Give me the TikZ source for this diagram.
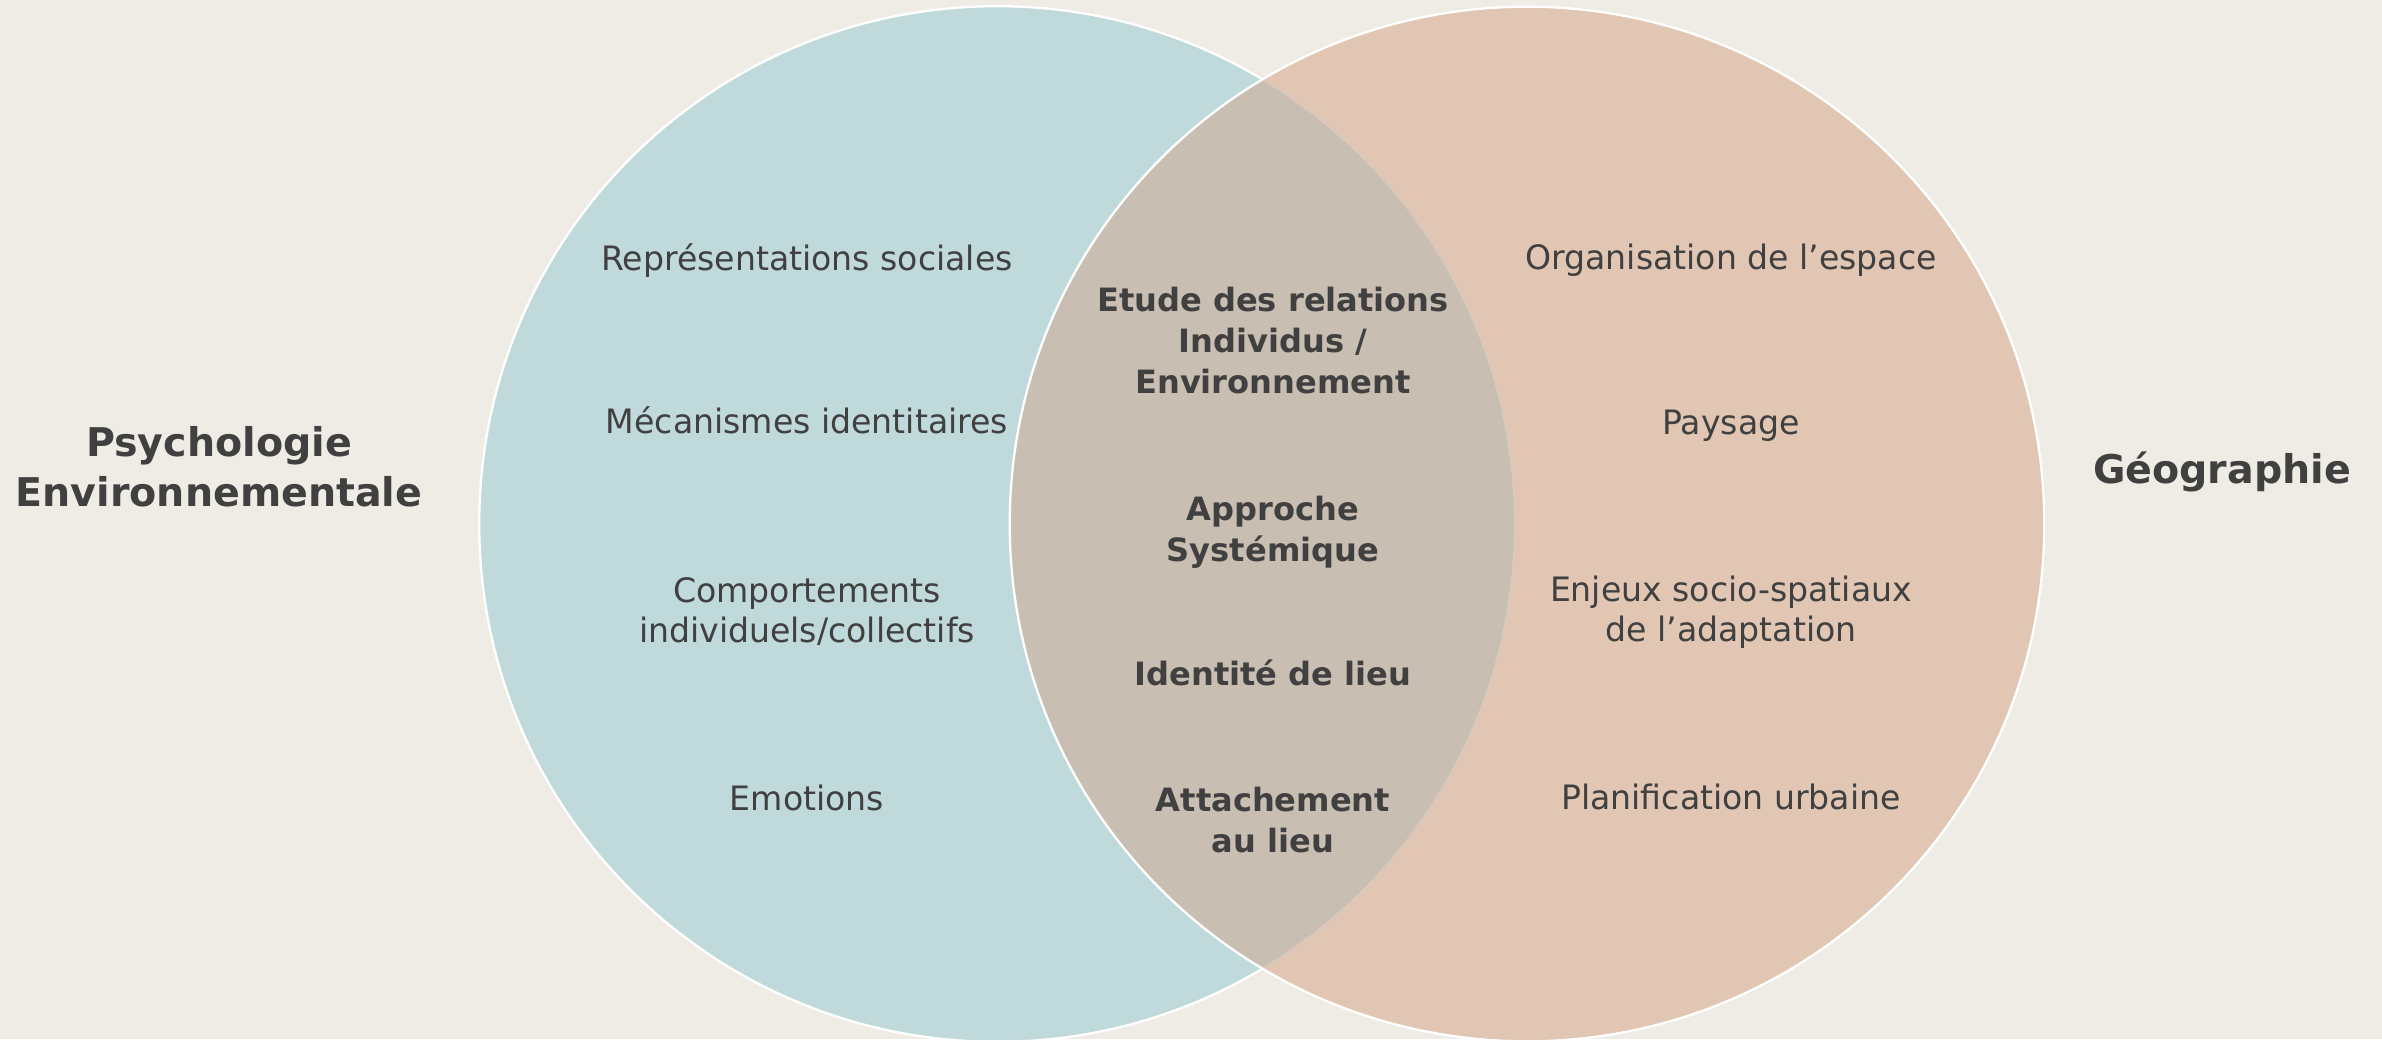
\documentclass[tikz,border=0pt]{standalone}
\usepackage{fontspec}
\setmainfont{DejaVu Sans}
\newfontfamily\regfont{DejaVu Sans}[FakeStretch=0.985]
\newfontfamily\boldfont{DejaVu Sans}
\definecolor{bgc}{HTML}{EFECE5}
\definecolor{bluec}{HTML}{C0D9DB}
\definecolor{peachc}{HTML}{E0C6B3}
\definecolor{interc}{HTML}{C9BEB2}
\definecolor{faintc}{HTML}{D9CABE}
\definecolor{txt}{HTML}{404040}
\newcommand\mlines[1]{\begin{tabular}[t]{@{}c@{}}#1\end{tabular}}
\tikzset{
  reg/.style={font=\regfont\fontsize{9.56}{11.38}\selectfont, text=txt, inner sep=0pt, anchor=base},
  ctr/.style={font=\boldfont\bfseries\fontsize{9.13}{11.66}\selectfont, text=txt, inner sep=0pt, anchor=base},
  ttl/.style={font=\boldfont\bfseries\fontsize{11.25}{14.2}\selectfont, text=txt, inner sep=0pt, anchor=base},
  outl/.style={draw=white, line width=0.65pt}
}
\begin{document}
\begin{tikzpicture}[x=0.01cm,y=-0.01cm]
\useasboundingbox (0,0) rectangle (2382,1039);
\clip (0,0) rectangle (2382,1039);
\fill[bgc] (0,0) rectangle (2382,1039);
\coordinate (L) at (997,524);
\coordinate (R) at (1527,524);
% left circle
\fill[bluec] (L) circle (5.175cm);
\draw[outl] (L) circle (5.175cm);
% right circle
\fill[peachc] (R) circle (5.17cm);
% intersection
\begin{scope}
  \clip (L) circle (5.175cm);
  \fill[interc] (R) circle (5.17cm);
\end{scope}
\begin{scope}
  \clip (R) circle (5.17cm);
  \draw[faintc, line width=0.5pt] (L) circle (5.175cm);
\end{scope}
\draw[outl] (R) circle (5.17cm);

% titles
\node[ttl] (psy) at (219,456.7) {\mlines{Psychologie\\Environnementale}};
\node[ttl] (geo) at (2222,483.3) {Géographie};

% left column
\node[reg] (l1) at (807,270) {Représentations sociales};
\node[reg] (l2) at (807,433) {Mécanismes identitaires};
\node[reg] (l3) at (807,602.7) {\mlines{Comportements\\individuels/collectifs}};
\node[reg] (l4) at (807,810) {Emotions};

% right column
\node[reg] (r1) at (1731,269.3) {Organisation de l’espace};
\node[reg] (r2) at (1731,434) {Paysage};
\node[reg] (r3) at (1731,601.7) {\mlines{Enjeux socio-spatiaux\\de l’adaptation}};
\node[reg] (r4) at (1731,809.3) {Planification urbaine};

% center column
\node[ctr] (c1) at (1273,311.7) {\mlines{Etude des relations\\Individus /\\Environnement}};
\node[ctr] (c2) at (1273,520) {\mlines{Approche\\Systémique}};
\node[ctr] (c3) at (1273,685) {Identité de lieu};
\node[ctr] (c4) at (1273,811.7) {\mlines{Attachement\\au lieu}};
\end{tikzpicture}
\end{document}
